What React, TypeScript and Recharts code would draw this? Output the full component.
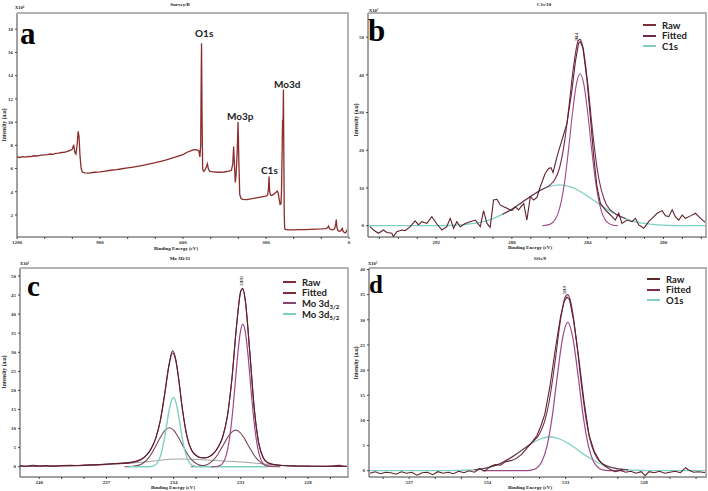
import React from 'react';
import { LineChart, Line, XAxis, YAxis, Legend } from 'recharts';

type Pt = [number, number];

// ---------- Panel a : Survey ----------
const surveyPoints: Pt[] = [
  [1200, 7.0], [1190, 6.95], [1180, 7.02], [1170, 6.98], [1160, 7.05], [1150, 7.03], [1140, 7.1], [1130, 7.08],
  [1120, 7.12], [1110, 7.15], [1100, 7.18], [1090, 7.2], [1080, 7.25], [1070, 7.22], [1060, 7.3], [1050, 7.33],
  [1040, 7.38], [1030, 7.4], [1020, 7.45], [1010, 7.55], [1000, 7.65], [995, 8.05], [991, 7.4], [987, 7.25],
  [982, 8.2], [979, 9.2], [976, 8.8], [972, 7.0], [968, 6.0], [964, 5.7], [955, 5.62], [940, 5.6], [920, 5.68],
  [900, 5.72], [880, 5.78], [860, 5.85], [840, 5.9], [820, 5.98], [800, 6.05], [780, 6.12], [760, 6.2], [740, 6.3],
  [720, 6.4], [700, 6.5], [680, 6.62], [660, 6.75], [640, 6.9], [620, 7.05], [600, 7.2], [585, 7.4], [570, 7.55],
  [560, 7.62], [550, 7.6], [543, 7.55], [539, 7.0], [536, 8.0], [534, 14.5], [533, 16.8], [531, 10.0], [529, 6.0],
  [526, 5.75], [522, 5.8], [516, 6.1], [512, 6.4], [508, 5.95], [503, 5.75], [490, 5.72], [470, 5.68], [450, 5.7],
  [435, 5.78], [425, 5.85], [420, 6.4], [417, 7.9], [414, 6.3], [411, 4.8], [408, 5.5], [404, 7.5], [401, 10.0],
  [398, 6.5], [395, 3.8], [391, 3.45], [385, 3.35], [370, 3.32], [350, 3.4], [330, 3.5], [310, 3.58], [300, 3.62],
  [294, 3.72], [291, 4.3], [289, 5.3], [287, 4.1], [284, 3.72], [280, 3.68], [272, 3.78], [264, 3.95], [259, 4.05],
  [256, 3.9], [252, 3.3], [249, 2.9], [246, 2.95], [244, 4.0], [242, 7.0], [240, 10.2], [238.5, 9.7], [237, 12.8],
  [235.5, 7.0], [234, 2.0], [232.5, 0.85], [230, 0.75], [220, 0.72], [200, 0.72], [180, 0.73], [160, 0.74],
  [140, 0.76], [120, 0.78], [100, 0.8], [85, 0.83], [78, 0.88], [74, 1.05], [71, 0.85], [67, 0.75], [60, 0.72],
  [52, 0.8], [48, 1.2], [46, 1.6], [44, 1.0], [41, 0.7], [36, 0.6], [30, 0.62], [26, 0.78], [24, 0.85], [22, 0.62],
  [18, 0.5], [14, 0.45], [10, 0.55], [7, 0.7], [4, 0.5], [0, 0.6],
];
const surveyXTicks = [0, 100, 200, 300, 400, 500, 600, 700, 800, 900, 1000, 1100, 1200];
const surveyYTicks = [2, 4, 6, 8, 10, 12, 14, 16, 18];

// ---------- Panel b : C1s ----------
const c1sRaw: Pt[] = [
  [295.49, -0.27], [295.31, -1.15], [295.05, -2.0], [294.78, -1.15], [294.61, -1.8], [294.34, -2.0], [294.26, -2.9],
  [294.08, -1.6], [293.81, -1.15], [293.64, -1.3], [293.37, -0.27], [293.11, 1.3], [292.93, 0.2], [292.76, 1.06],
  [292.49, 0.6], [292.23, 2.4], [291.96, 0.44], [291.7, -1.15], [291.44, -0.27], [291.26, 1.95], [291.08, -0.7],
  [290.91, 1.06], [290.73, -0.27], [290.47, 0.6], [290.2, 1.06], [289.94, 1.5], [289.67, -0.27], [289.5, 4.0],
  [289.32, 0.6], [289.15, -0.44], [288.97, 6.8], [288.79, 7.0], [288.62, 5.5], [288.44, 5.0], [288.26, 4.6],
  [288.0, 4.0], [287.82, 5.0], [287.65, 4.2], [287.38, 5.9], [287.21, 1.5], [287.03, 7.7], [286.85, 6.8],
  [286.68, 7.5], [286.5, 10.4], [286.24, 13.9], [286.06, 15.2], [285.94, 15.4], [285.83, 14.1], [285.62, 18.3],
  [285.36, 22.7], [285.09, 27.2], [284.83, 36.0], [284.65, 43.5], [284.48, 48.4], [284.39, 48.8], [284.25, 47.1],
  [284.04, 38.7], [283.86, 28.9], [283.68, 18.3], [283.51, 10.4], [283.33, 5.9], [283.07, 4.2], [282.89, 3.3],
  [282.71, 2.4], [282.54, 1.5], [282.36, 3.3], [282.19, 0.6], [281.92, 1.5], [281.66, 1.06], [281.48, 1.95],
  [281.3, 0.2], [281.04, -0.7], [280.78, 1.06], [280.51, 2.4], [280.33, 3.3], [280.07, 4.0], [279.89, 2.6],
  [279.72, 2.4], [279.54, 4.2], [279.37, 2.4], [279.19, 1.5], [279.01, 2.8], [278.84, 1.95], [278.57, 2.6],
  [278.31, 3.3], [278.04, 1.95], [277.78, 0.8], [277.7, 0.5],
];
const c1sFitted: Pt[] = [
  [288.5, 3.0], [288, 4.4], [287.5, 6.1], [287, 7.8],
  [286.5, 9.4], [286, 10.75], [285.75, 12.1], [285.5, 15.1], [285.25, 21.3], [285, 31.1], [284.75, 42.1],
  [284.5, 49.0], [284.4, 49.4], [284.25, 47.3], [284, 37.8], [283.75, 25.4], [283.5, 15.1], [283, 5.5],
  [282.5, 3.05], [282, 1.9],
];
const c1sMain: Pt[] = [
  [286.4, 0], [286.0, 0.35], [285.8, 1.07], [285.6, 2.8], [285.4, 6.3], [285.2, 12.3], [285.0, 20.7], [284.8, 30.0],
  [284.6, 37.4], [284.4, 40.3], [284.2, 37.4], [284.0, 30.0], [283.8, 20.7], [283.6, 12.3], [283.4, 6.3],
  [283.2, 2.8], [283.0, 1.07], [282.7, 0.19], [282.4, 0],
];
const c1sBroad: Pt[] = [
  [295.6, 0], [292.5, 0], [291.5, 0.05], [291, 0.14], [290.5, 0.3], [290, 0.6], [289.5, 1.1], [289, 1.9], [288.5, 3.0],
  [288, 4.4], [287.5, 6.1], [287, 7.8], [286.5, 9.4], [286, 10.4], [285.5, 10.8], [285, 10.4], [284.5, 9.4], [284, 7.8],
  [283.5, 6.1], [283, 4.4], [282.5, 3.0], [282, 1.9], [281.5, 1.1], [281, 0.6], [280.5, 0.3], [280, 0.14],
  [279.5, 0.05], [278.5, 0], [277.7, 0],
];
const c1sXTicks = [278, 279, 280, 281, 282, 283, 284, 285, 286, 287, 288, 289, 290, 291, 292, 293, 294, 295];
const c1sYTicks = [0, 10, 20, 30, 40, 50];

// ---------- Panel c : Mo 3d ----------
const moRaw: Pt[] = [
  [240.86, 0.3], [240.6, 0.1], [240.3, 0.4], [240.0, 0.2], [239.7, 0.3], [239.4, 0.1], [239.0, 0.3], [238.6, 0.35],
  [238.2, 0.3], [237.8, 0.5], [237.4, 0.55], [237.0, 0.7], [236.6, 0.85], [236.2, 1.0], [235.8, 1.3], [235.5, 1.8],
  [235.2, 3.1], [235.0, 4.8], [234.8, 7.5], [234.6, 12.0], [234.4, 19.2], [234.2, 27.0], [234.05, 30.4], [233.9, 28.0],
  [233.8, 24.2], [233.6, 14.8], [233.4, 7.9], [233.2, 4.4], [233.0, 3.0], [232.8, 2.4], [232.6, 2.35], [232.4, 2.7],
  [232.2, 3.6], [232.0, 5.3], [231.8, 8.0], [231.6, 13.3], [231.4, 23.0], [231.2, 36.4], [231.0, 46.1], [230.92, 46.8],
  [230.8, 43.6], [230.6, 30.1], [230.4, 15.3], [230.2, 6.2], [230.0, 2.4], [229.8, 1.1], [229.5, 0.55], [229.0, 0.3],
  [228.5, 0.2], [228.0, 0.15], [227.5, 0.1], [227.0, 0.2], [226.6, 0.35], [226.4, 0.2], [226.17, 0.1],
];
const moFitted: Pt[] = [
  [240.86, 0.1], [240, 0.15], [239, 0.22], [238, 0.35], [237, 0.6], [236.5, 0.8], [236, 0.95], [235.5, 1.68],
  [235.2, 3.07], [235.0, 4.77], [234.8, 7.43], [234.6, 11.85], [234.4, 18.9], [234.2, 26.7], [234.05, 29.8],
  [233.9, 27.7], [233.8, 24.0], [233.6, 14.7], [233.4, 7.77], [233.2, 4.31], [233.0, 2.89], [232.8, 2.35],
  [232.6, 2.31], [232.4, 2.64], [232.2, 3.57], [232.0, 5.21], [231.8, 7.97], [231.6, 13.2], [231.4, 22.9],
  [231.2, 36.3], [231.0, 46.0], [230.9, 46.6], [230.8, 43.5], [230.6, 30.0], [230.4, 15.2], [230.2, 6.1],
  [230.0, 2.3], [229.8, 1.01], [229.5, 0.5], [229, 0.25], [228, 0.12], [227, 0.08], [226.17, 0.06],
];
const moBackground: Pt[] = [
  [240.86, 0.1], [239, 0.2], [238, 0.3], [237, 0.55], [236, 0.9], [235, 1.4], [234.5, 1.75], [234, 2.0], [233.5, 2.0],
  [233, 1.9], [232.5, 1.75], [232, 1.6], [231.5, 1.4], [231, 1.25], [230.5, 1.0], [230, 0.75], [229.5, 0.45],
  [229, 0.25], [228, 0.12], [226.17, 0.05],
];
const mo32: Pt[] = [
  [232.31, 0], [232.11, 0.05], [231.91, 0.38], [231.81, 0.91], [231.71, 1.98], [231.61, 3.95], [231.51, 7.2],
  [231.41, 11.9], [231.31, 17.9], [231.21, 24.7], [231.11, 31.1], [231.01, 35.7], [230.91, 37.4], [230.81, 35.7],
  [230.71, 31.1], [230.61, 24.7], [230.51, 17.9], [230.41, 11.9], [230.31, 7.2], [230.21, 3.95], [230.11, 1.98],
  [230.01, 0.91], [229.91, 0.38], [229.71, 0.05], [229.51, 0],
];
const mo52: Pt[] = [
  [236.0, 0], [235.21, 0], [235.01, 0.07], [234.81, 0.51], [234.71, 1.19], [234.61, 2.45], [234.51, 4.5], [234.41, 7.4],
  [234.31, 11.0], [234.21, 14.5], [234.11, 17.1], [234.01, 18.1], [233.91, 17.1], [233.81, 14.5], [233.71, 11.0],
  [233.61, 7.4], [233.51, 4.5], [233.41, 2.45], [233.31, 1.19], [233.21, 0.51], [233.01, 0.07], [232.81, 0],
  [229.8, 0],
];
const moBroadA: Pt[] = [
  [236.19, 0], [235.89, 0.07], [235.59, 0.35], [235.39, 0.85], [235.19, 1.8], [234.99, 3.4], [234.79, 5.5],
  [234.59, 7.7], [234.39, 9.5], [234.19, 10.2], [233.99, 9.5], [233.79, 7.7], [233.59, 5.5], [233.39, 3.4],
  [233.19, 1.8], [232.99, 0.85], [232.79, 0.35], [232.49, 0.07], [232.19, 0],
];
const moBroadB: Pt[] = [
  [233.23, 0], [232.93, 0.07], [232.63, 0.33], [232.43, 0.8], [232.23, 1.7], [232.03, 3.2], [231.83, 5.2],
  [231.63, 7.3], [231.43, 8.96], [231.23, 9.6], [231.03, 8.96], [230.83, 7.3], [230.63, 5.2], [230.43, 3.2],
  [230.23, 1.7], [230.03, 0.8], [229.83, 0.33], [229.53, 0.07], [229.23, 0],
];
const moXTicks = [227, 228, 229, 230, 231, 232, 233, 234, 235, 236, 237, 238, 239, 240];
const moYTicks = [0, 5, 10, 15, 20, 25, 30, 35, 40, 45, 50];

// ---------- Panel d : O1s ----------
const o1sRaw: Pt[] = [
  [538.5, -0.5], [538.3, -0.2], [538.1, -0.6], [537.9, -0.3], [537.7, -0.4], [537.5, -0.7], [537.3, -0.2],
  [537.1, -0.5], [536.9, -0.3], [536.7, -0.9], [536.5, -0.4], [536.3, -0.3], [536.1, -0.8], [535.9, -0.2],
  [535.7, -0.5], [535.5, -0.3], [535.3, -0.6], [535.1, -0.1], [534.9, -0.4], [534.7, 0.0], [534.5, -0.3],
  [534.3, 0.4], [534.1, -0.1], [533.9, 0.8], [533.7, 1.2], [533.5, 1.1], [533.3, 1.8], [533.1, 2.0], [532.9, 2.4],
  [532.7, 3.2], [532.5, 4.4], [532.3, 5.6], [532.1, 7.0], [531.95, 8.9], [531.8, 11.2], [531.6, 16.8], [531.4, 24.0],
  [531.2, 30.5], [531.05, 33.8], [530.95, 34.5], [530.85, 34.0], [530.7, 30.0], [530.5, 22.5], [530.3, 14.0],
  [530.1, 7.0], [529.9, 3.8], [529.7, 2.0], [529.5, 0.9], [529.3, 0.3], [529.1, -0.2], [528.9, 0.1], [528.7, -0.3],
  [528.5, -0.1], [528.3, -0.5], [528.1, -0.2], [527.95, -1.0], [527.8, -0.2], [527.6, -0.4], [527.4, -0.1],
  [527.2, -0.5], [527.0, -0.3], [526.8, -0.1], [526.6, -0.4], [526.4, 0.6], [526.3, 0.2], [526.1, -0.3],
  [525.9, -0.2], [525.6, -0.4],
];
const o1sFitted: Pt[] = [
  [534.5, 0.19], [534, 0.58], [533.5, 1.44], [533, 2.91], [532.6, 4.38],
  [532.3, 5.57], [532.0, 7.35], [531.8, 9.9], [531.6, 14.7], [531.4, 21.9], [531.2, 29.9], [531.0, 34.7],
  [530.92, 35.0], [530.8, 33.4], [530.6, 26.5], [530.4, 17.3], [530.2, 9.7], [530.0, 4.93], [529.8, 2.54],
  [529.6, 1.43], [529.3, 0.73], [529.0, 0.38], [528.6, 0.13],
];
const o1sMain: Pt[] = [
  [534.2, 0], [532.62, 0], [532.32, 0.11], [532.12, 0.5], [531.92, 1.74], [531.72, 4.8], [531.52, 10.6], [531.32, 18.8],
  [531.12, 26.3], [530.92, 29.5], [530.72, 26.3], [530.52, 18.8], [530.32, 10.6], [530.12, 4.8], [529.92, 1.74],
  [529.72, 0.5], [529.52, 0.11], [529.22, 0], [528.8, 0],
];
const o1sBroad: Pt[] = [
  [538.54, 0], [535.4, 0], [534.8, 0.09], [534.4, 0.24], [534.0, 0.58], [533.7, 1.03], [533.4, 1.69], [533.1, 2.57],
  [532.8, 3.63], [532.5, 4.75], [532.2, 5.75], [531.9, 6.45], [531.6, 6.7], [531.3, 6.45], [531.0, 5.75],
  [530.7, 4.75], [530.4, 3.63], [530.1, 2.57], [529.8, 1.69], [529.5, 1.03], [529.2, 0.58], [528.8, 0.24],
  [528.4, 0.09], [527.8, 0], [525.58, 0],
];
const o1sXTicks = [526, 527, 528, 529, 530, 531, 532, 533, 534, 535, 536, 537, 538];
const o1sYTicks = [0, 5, 10, 15, 20, 25, 30, 35, 40];

// ---------- styling ----------
const RAW = '#5f2228';
const FIT = '#74294f';
const PURPLE = '#9b4a86';
const TEAL = '#7fd0c3';
const BROWN = '#7b4757';
const GRAY = '#a3a3a3';
const SURVEY = '#8c2c2c';

const serif = '"Liberation Serif", "DejaVu Serif", serif';
const sans = 'Lato, "Open Sans", "Noto Sans", sans-serif';

const tickStyle = { fontSize: 5, fontFamily: serif, fontWeight: 700, fill: '#333' };

type Series = { name: string; pts: Pt[]; color: string; width: number; smooth?: boolean; legend?: boolean };

const toRows = (pts: Pt[]) => pts.map(([x, y]) => ({ x, y }));

function LegendBox({ items }: { items: { name: string; color: string }[] }) {
  return (
    <div style={{ fontFamily: sans, fontWeight: 700, fontSize: 9.5, color: '#222' }}>
      {items.map((it, i) => {
        const m = it.name.match(/^(.*3d)(\d\/\d)$/);
        return (
          <div key={i} style={{ display: 'flex', alignItems: 'center', height: 10.6, whiteSpace: 'nowrap' }}>
            <span style={{ display: 'inline-block', width: 13, height: 2, background: it.color, marginRight: 6 }} />
            {m ? (
              <span>
                {m[1]}
                <span style={{ fontSize: 6, position: 'relative', top: 2 }}>{m[2]}</span>
              </span>
            ) : (
              <span>{it.name}</span>
            )}
          </div>
        );
      })}
    </div>
  );
}

type PanelProps = {
  left: number; top: number; width: number; height: number;
  margin: { top: number; right: number; bottom: number; left: number };
  yWidth: number; xHeight: number;
  xDomain: [number, number]; yDomain: [number, number];
  xTicks: number[]; xLabelStep: number; yTicks: number[];
  series: Series[];
  legendAt?: { left: number; top: number };
  legendItems?: { name: string; color: string }[];
};

function Panel(p: PanelProps) {
  const plotLeft = p.left + p.margin.left + p.yWidth;
  const plotTop = p.top + p.margin.top;
  const plotW = p.width - p.margin.left - p.yWidth - p.margin.right;
  const plotH = p.height - p.margin.top - p.margin.bottom - p.xHeight;
  return (
    <>
      <div style={{ position: 'absolute', left: p.left, top: p.top }}>
        <LineChart width={p.width} height={p.height} margin={p.margin}>
          <XAxis
            type="number" dataKey="x" domain={p.xDomain} reversed allowDataOverflow
            ticks={p.xTicks} interval={0} height={p.xHeight} tickSize={2} tickMargin={1}
            tickFormatter={(v: number) => (Math.round(v) % p.xLabelStep === 0 ? String(v) : '')}
            tick={tickStyle} axisLine={{ stroke: '#444' }} tickLine={{ stroke: '#444' }}
          />
          <YAxis
            type="number" domain={p.yDomain} allowDataOverflow ticks={p.yTicks} interval={0}
            width={p.yWidth} tickSize={2} tickMargin={2} tick={tickStyle}
            axisLine={{ stroke: '#444' }} tickLine={{ stroke: '#444' }}
          />
          {p.series.map((s, i) => (
            <Line
              key={i} data={toRows(s.pts)} dataKey="y" name={s.name} stroke={s.color}
              strokeWidth={s.width} dot={false} activeDot={false} isAnimationActive={false}
              type={s.smooth ? 'monotone' : 'linear'} legendType={s.legend ? 'line' : 'none'}
            />
          ))}
          {p.legendAt && p.legendItems && (
            <Legend
              layout="vertical" verticalAlign="middle" align="center"
              wrapperStyle={{ left: p.legendAt.left, top: p.legendAt.top, width: 'auto', height: 'auto' }}
              content={() => <LegendBox items={p.legendItems!} />}
            />
          )}
        </LineChart>
      </div>
      <div
        style={{
          position: 'absolute', left: plotLeft, top: plotTop - 1, width: plotW, height: plotH,
          borderTop: '2px solid #b3b3b3', borderRight: '2px solid #b3b3b3', boxSizing: 'border-box',
          pointerEvents: 'none',
        }}
      />
    </>
  );
}

function Txt({ x, y, children, size = 5, family = serif, weight = 700, center = false, color = '#222' }: any) {
  return (
    <div
      style={{
        position: 'absolute', left: x, top: y, fontSize: size, fontFamily: family, fontWeight: weight,
        lineHeight: 1, whiteSpace: 'nowrap', color, transform: center ? 'translateX(-50%)' : undefined,
      }}
    >
      {children}
    </div>
  );
}

function VTxt({ x, y, children, size = 5.5 }: any) {
  return (
    <div
      style={{
        position: 'absolute', left: x, top: y, fontSize: size, fontFamily: serif, fontWeight: 700,
        lineHeight: 1, whiteSpace: 'nowrap', color: '#222', transform: 'translate(-50%, -50%) rotate(-90deg)',
      }}
    >
      {children}
    </div>
  );
}

export default function App() {
  return (
    <div style={{ position: 'absolute', left: 0, top: 0, width: 708, height: 491, background: '#fff', overflow: 'hidden' }}>
      {/* a */}
      <Panel
        left={0} top={0} width={352} height={250}
        margin={{ top: 13, right: 3, bottom: 1, left: 0 }} yWidth={17} xHeight={12}
        xDomain={[0, 1200]} yDomain={[0.1, 19.4]} xTicks={surveyXTicks} xLabelStep={300} yTicks={surveyYTicks}
        series={[{ name: 'Survey', pts: surveyPoints, color: SURVEY, width: 1.3 }]}
      />
      {/* b */}
      <Panel
        left={340} top={0} width={368} height={250}
        margin={{ top: 13, right: 1, bottom: 1, left: 0 }} yWidth={28} xHeight={12}
        xDomain={[277.7, 295.6]} yDomain={[-3, 56.4]} xTicks={c1sXTicks} xLabelStep={4} yTicks={c1sYTicks}
        series={[
          { name: 'C1s', pts: c1sBroad, color: TEAL, width: 1.3, smooth: true, legend: true },
          { name: 'C1s main', pts: c1sMain, color: PURPLE, width: 1.1, smooth: true },
          { name: 'Fitted', pts: c1sFitted, color: FIT, width: 1.1, smooth: true, legend: true },
          { name: 'Raw', pts: c1sRaw, color: RAW, width: 1.1, legend: true },
        ]}
        legendAt={{ left: 303, top: 20 }}
        legendItems={[{ name: 'Raw', color: '#7a2f36' }, { name: 'Fitted', color: '#6b2d4d' }, { name: 'C1s', color: TEAL }]}
      />
      {/* c */}
      <Panel
        left={0} top={255} width={352} height={236}
        margin={{ top: 13, right: 3, bottom: 6, left: 0 }} yWidth={20} xHeight={8}
        xDomain={[226.17, 240.86]} yDomain={[-2.7, 52.1]} xTicks={moXTicks} xLabelStep={3} yTicks={moYTicks}
        series={[
          { name: 'Background', pts: moBackground, color: GRAY, width: 1, smooth: true },
          { name: 'Mo 3d a', pts: moBroadA, color: BROWN, width: 1.1, smooth: true },
          { name: 'Mo 3d b', pts: moBroadB, color: BROWN, width: 1.1, smooth: true },
          { name: 'Mo 3d5/2', pts: mo52, color: TEAL, width: 1.4, smooth: true, legend: true },
          { name: 'Mo 3d3/2', pts: mo32, color: PURPLE, width: 1.2, smooth: true, legend: true },
          { name: 'Fitted', pts: moFitted, color: FIT, width: 1.1, smooth: true, legend: true },
          { name: 'Raw', pts: moRaw, color: RAW, width: 1.1, smooth: true, legend: true },
        ]}
        legendAt={{ left: 283, top: 22 }}
        legendItems={[
          { name: 'Raw', color: '#7a2f36' }, { name: 'Fitted', color: '#7a2f36' },
          { name: 'Mo 3d3/2', color: '#86456e' }, { name: 'Mo 3d5/2', color: TEAL },
        ]}
      />
      {/* d */}
      <Panel
        left={340} top={255} width={368} height={236}
        margin={{ top: 13, right: 1, bottom: 6, left: 0 }} yWidth={29} xHeight={8}
        xDomain={[525.58, 538.54]} yDomain={[-1.25, 40.3]} xTicks={o1sXTicks} xLabelStep={3} yTicks={o1sYTicks}
        series={[
          { name: 'O1s', pts: o1sBroad, color: TEAL, width: 1.3, smooth: true, legend: true },
          { name: 'O1s main', pts: o1sMain, color: PURPLE, width: 1.2, smooth: true },
          { name: 'Fitted', pts: o1sFitted, color: FIT, width: 1.1, smooth: true, legend: true },
          { name: 'Raw', pts: o1sRaw, color: RAW, width: 1.1, legend: true },
        ]}
        legendAt={{ left: 307, top: 19 }}
        legendItems={[{ name: 'Raw', color: '#5a2a2a' }, { name: 'Fitted', color: '#7a2a4c' }, { name: 'O1s', color: TEAL }]}
      />

      {/* titles */}
      <Txt x={180} y={2} center>Survey/B</Txt>
      <Txt x={544} y={2} center>C1s/10</Txt>
      <Txt x={180} y={256} center>Mo 3D/11</Txt>
      <Txt x={540} y={256} center>O1s/9</Txt>

      {/* multipliers */}
      <Txt x={15} y={6} size={4.5}>X10⁴</Txt>
      <Txt x={369} y={9} size={4.5}>X10²</Txt>
      <Txt x={20} y={262} size={4.5}>X10²</Txt>
      <Txt x={368} y={262} size={4.5}>X10²</Txt>

      {/* x axis titles */}
      <Txt x={176} y={246} center>Binding Energy (eV)</Txt>
      <Txt x={530} y={245} center>Binding Energy (eV)</Txt>
      <Txt x={173} y={485} center>Binding Energy (eV)</Txt>
      <Txt x={530} y={485} center>Binding Energy (eV)</Txt>

      {/* y axis titles */}
      <VTxt x={5} y={125}>Intensity (a.u)</VTxt>
      <VTxt x={357} y={120}>Intensity (a.u)</VTxt>
      <VTxt x={5} y={372}>Intensity (a.u)</VTxt>
      <VTxt x={357} y={363}>Intensity (a.u)</VTxt>

      {/* panel letters */}
      <Txt x={20} y={18} size={31} color="#000">a</Txt>
      <Txt x={368} y={15} size={31} color="#000">b</Txt>
      <Txt x={27} y={272} size={29} color="#000">c</Txt>
      <Txt x={369} y={272} size={25} color="#000">d</Txt>

      {/* survey peak labels */}
      <Txt x={195} y={28} size={10} family={sans}>O1s</Txt>
      <Txt x={227} y={111} size={10} family={sans}>Mo3p</Txt>
      <Txt x={261} y={165} size={10} family={sans}>C1s</Txt>
      <Txt x={274} y={79} size={10} family={sans}>Mo3d</Txt>

      {/* tiny peak position marks */}
      <VTxt x={578} y={37} size={3.5}>284.4</VTxt>
      <VTxt x={243} y={281} size={3.5}>230.92</VTxt>
      <VTxt x={566} y={290} size={3.5}>530.9</VTxt>
    </div>
  );
}
